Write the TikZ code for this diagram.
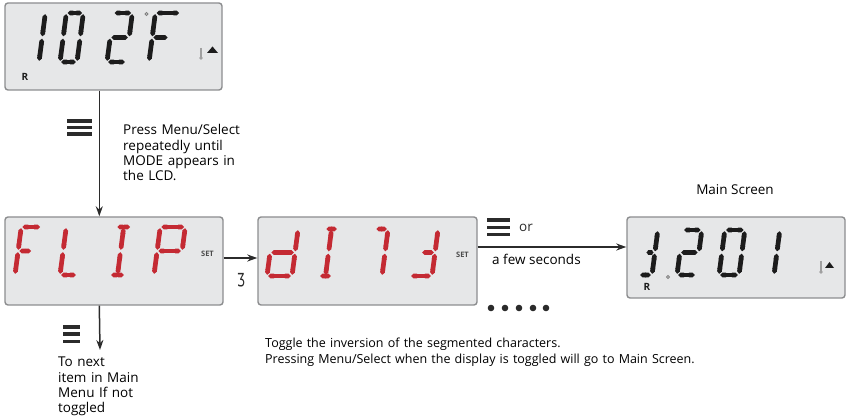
\documentclass[tikz,border=0pt]{standalone}
\usepackage{fontspec}
\setmainfont{Open Sans}
\newfontfamily\dejavu{DejaVu Sans}
\usetikzlibrary{arrows.meta}
\definecolor{panelfill}{HTML}{E6E7E8}
\definecolor{panelline}{HTML}{8C8D8F}
\definecolor{lcdred}{HTML}{C42A33}
\definecolor{lcdblack}{HTML}{1C1C1C}
\definecolor{ink}{HTML}{2B2B2B}
\definecolor{thermo}{HTML}{A0A0A0}
\def\gp{1.2}
\def\segSa{(\gp,\H)--(\W-\gp,\H)}
\def\segSb{(\W,\H-\gp)--(\W,\Hh+\gp)}
\def\segSc{(\W,\Hh-\gp)--(\W,\gp)}
\def\segSd{(\gp,0)--(\W-\gp,0)}
\def\segSe{(0,\gp)--(0,\Hh-\gp)}
\def\segSf{(0,\Hh+\gp)--(0,\H-\gp)}
\def\segSg{(\gp,\Hh)--(\W-\gp,\Hh)}
\def\segSh{(\Wh,\H-\gp)--(\Wh,\Hh+\gp)}
\def\segSi{(\Wh,\Hh-\gp)--(\Wh,\gp)}
\def\segSm{(\gp,\Hh)--(\Wh+3,\Hh)}
\def\segSk{(\Wh-2,\Hh)--(\W-\gp,\Hh)}
\newcommand\lcdchar[6]{%
  \begin{scope}[shift={(#1,#2)},x=1pt,y=1pt,xslant=0.13]
    \pgfmathsetmacro\W{#3}\pgfmathsetmacro\H{#4}%
    \pgfmathsetmacro\Hh{#4/2}\pgfmathsetmacro\Wh{#3/2}%
    \foreach \s in {#6}{\edef\tmp{\noexpand\draw[seg,#5] \csname segS\s\endcsname;}\tmp}
  \end{scope}}
\newcommand\menuicon[5]{% x1, x2, y1, y2, y3
  \foreach \yy in {#3,#4,#5}{\draw[menu] (#1,\yy) -- (#2,\yy);}}
\tikzset{
  panel/.style={draw=panelline, fill=panelfill, line width=1.4pt, rounded corners=3pt, inner sep=0pt},
  seg/.style={line width=4.7pt, {Triangle Cap[]}-{Triangle Cap[]}},
  arr/.style={draw=ink, line width=1.5pt, -{Stealth[length=10pt,width=7pt]}},
  menu/.style={draw=ink, line width=3.2pt},
  txt/.style={text=black, font=\fontsize{13.5}{15.3}\selectfont, inner sep=0pt, align=left},
  setlbl/.style={text=black!70, font=\bfseries\fontsize{7.5}{7.5}\selectfont, inner sep=0pt},
  rlbl/.style={text=lcdblack, font=\bfseries\fontsize{10}{10}\selectfont, inner sep=0pt},
  dot/.style={fill=ink, draw=none}
}
\begin{document}
\begin{tikzpicture}[x=1pt,y=-1pt]
\useasboundingbox (0,0) rectangle (847,419);
% panels
\node[panel, minimum width=217pt, minimum height=87pt] (p1) at (113.5,46.5) {};
\node[panel, minimum width=218pt, minimum height=88pt] (p2) at (114,261) {};
\node[panel, minimum width=219pt, minimum height=88pt] (p3) at (367.5,261) {};
\node[panel, minimum width=218pt, minimum height=81pt] (p4) at (736,257.5) {};
% top panel 102F
\lcdchar{39}{62}{0}{49}{lcdblack}{b,c}
\lcdchar{60}{62}{17}{49}{lcdblack}{a,b,c,d,e,f}
\lcdchar{107}{62}{19}{49}{lcdblack}{a,b,g,e,d}
\lcdchar{149}{62}{25}{49}{lcdblack}{a,f,e,m}
\draw[thermo!80!black, line width=0.9pt] (146.5,14) circle (1.6);
\node[rlbl] (r1) at (25,77) {R};
\draw[thermo, line width=2.2pt] (201,48) -- (201,57);
\fill[thermo] (201,58) circle (1.8);
\fill[lcdblack] (207,53) -- (218,53) -- (212.5,46.5) -- cycle;
% FLIP
\lcdchar{15}{275}{20}{48}{lcdred}{a,f,e,m}
\lcdchar{60}{275}{17}{48}{lcdred}{f,e,d}
\lcdchar{110}{275}{15}{48}{lcdred}{a,h,i,d}
\lcdchar{154}{275}{25}{48}{lcdred}{a,b,f,g,e}
\node[setlbl] (set1) at (207.5,253.5) {SET};
% dITJ
\lcdchar{267}{276}{25}{47}{lcdred}{b,c,d,e,g}
\lcdchar{319}{276}{13}{47}{lcdred}{a,h,i,d}
\lcdchar{369}{276}{13}{47}{lcdred}{a,b,c}
\lcdchar{410}{276}{22}{47}{lcdred}{b,c,d,k}
\node[setlbl] (set2) at (462.5,255) {SET};
% main screen
\lcdchar{639}{275}{13}{45}{lcdblack}{b,c,d,k}
\draw[thermo!80!black, line width=0.9pt] (668,277) circle (1.6);
\lcdchar{677}{275}{19}{45}{lcdblack}{a,b,g,e,d}
\lcdchar{719}{275}{20}{45}{lcdblack}{a,b,c,d,e,f}
\lcdchar{774}{275}{0}{45}{lcdblack}{b,c}
\node[rlbl] (r2) at (647,287) {R};
\draw[thermo, line width=2.2pt] (821,261) -- (821,271);
\fill[thermo] (821,272) circle (1.8);
\fill[lcdblack] (825,268) -- (834,268) -- (829.5,262) -- cycle;
% connectors
\coordinate (s1) at ([xshift=95pt]p1.south west);
\draw[arr] (s1) -- (s1 |- p2.north);
\coordinate (s4) at (s1 |- p2.south);
\coordinate (e4) at (100,350);
\draw[arr] (s4) -- (e4);
\coordinate (s2) at ([yshift=3pt]p2.east);
\draw[arr] (s2) -- (s2 -| p3.west);
\coordinate (s3) at ([yshift=14pt]p3.east);
\draw[arr] (s3) -- (s3 -| p4.west);
% menu icons
\menuicon{67}{92}{121}{127.5}{134}
\menuicon{63}{80}{327}{334}{341.5}
\menuicon{487}{510}{220}{227.3}{234.3}
% dots
\foreach \xx in {491,505,519,533,546} {\fill[dot] (\xx,308) circle (3.3);}
% small symbol
\node[text=ink, font=\dejavu\fontsize{18}{18}\selectfont, inner sep=0pt, xscale=0.65] (sym) at (241,280) {Ʒ};
% texts
\node[txt, anchor=base west, text width=160pt] (t1) at (123,135) {Press Menu/Select\\repeatedly until\\MODE appears in\\the LCD.};
\node[txt, anchor=base west, text width=120pt] (t2) at (58,367) {To next\\item in Main\\Menu If not\\toggled};
\node[txt, anchor=base] (t3) at (735,195) {Main Screen};
\node[txt, anchor=base west, text=ink] (t4) at (519,232) {or};
\node[txt, anchor=base west] (t5) at (492,265) {a few seconds};
\node[txt, anchor=base west, text width=500pt, font=\fontsize{12.5}{16}\selectfont] (t6) at (265,348) {Toggle the inversion of the segmented characters.\\Pressing Menu/Select when the display is toggled will go to Main Screen.};
\end{tikzpicture}
\end{document}
